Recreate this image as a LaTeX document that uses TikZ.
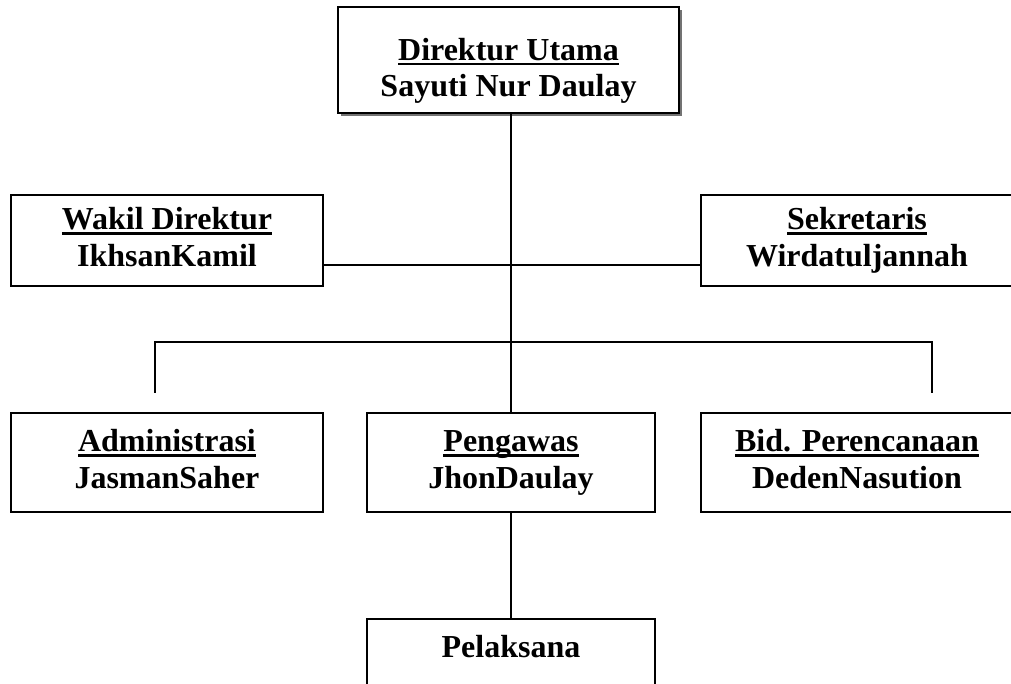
\documentclass[tikz,border=0pt]{standalone}
\usepackage{fontspec}
\setmainfont{Liberation Serif}
\usetikzlibrary{positioning, shadows}

\newsavebox\garisbox
\newcommand{\garis}[1]{\sbox\garisbox{#1}\rlap{\rule[-4pt]{\wd\garisbox}{1.9pt}}\usebox\garisbox}
\newcommand{\isi}[2]{\strut\garis{#1}\\#2\strut}

\begin{document}
\begin{tikzpicture}[x=0.75pt, y=-0.75pt, line width=1.4pt,
    kotak/.style={draw, fill=white, align=center, inner sep=0pt,
      font=\fontsize{24}{27.5}\selectfont\bfseries, minimum height=74.25pt}]
  \useasboundingbox (0,0) rectangle (1011,684);
  % pimpinan
  \node[kotak, minimum width=255.75pt, minimum height=79.5pt,
    drop shadow={shadow xshift=2.4pt, shadow yshift=-2.4pt, fill=black!55, opacity=1}]
    (direktur) at (508.5,60) {\rule{0pt}{36pt}\isi{Direktur Utama}{Sayuti Nur Daulay}};
  \node[kotak, minimum width=234pt, minimum height=68.25pt] (wakil) at (167,240.5) {\isi{Wakil Direktur}{IkhsanKamil}};
  \node[kotak, minimum width=234pt, minimum height=68.25pt] (sekretaris) at (857,240.5) {\isi{Sekretaris}{Wirdatuljannah}};
  % bagian
  \node[kotak, minimum width=234pt] (admin) at (167,462.5) {\isi{Administrasi}{JasmanSaher}};
  \node[kotak, minimum width=216pt] (pengawas) at (511,462.5) {\isi{Pengawas}{JhonDaulay}};
  \node[kotak, minimum width=234pt] (bidang) at (857,462.5) {\isi{Bid. Perencanaan}{DedenNasution}};
  \node[kotak, minimum width=216pt, below=78.75pt of pengawas] (pelaksana) {\strut Pelaksana\\\strut};
  % garis
  \coordinate (busKiri) at (155,342);
  \coordinate (busKanan) at (932,342);
  \draw (direktur.south -| pengawas.north) -- (pengawas.north);
  \draw ([yshift=-18.6pt]wakil.east) -- ([yshift=-18.6pt]sekretaris.west);
  \draw (busKiri) ++(0,51) -- (busKiri) -- (busKanan) -- ++(0,51);
  \draw (pengawas.south) -- (pelaksana.north);
\end{tikzpicture}
\end{document}
